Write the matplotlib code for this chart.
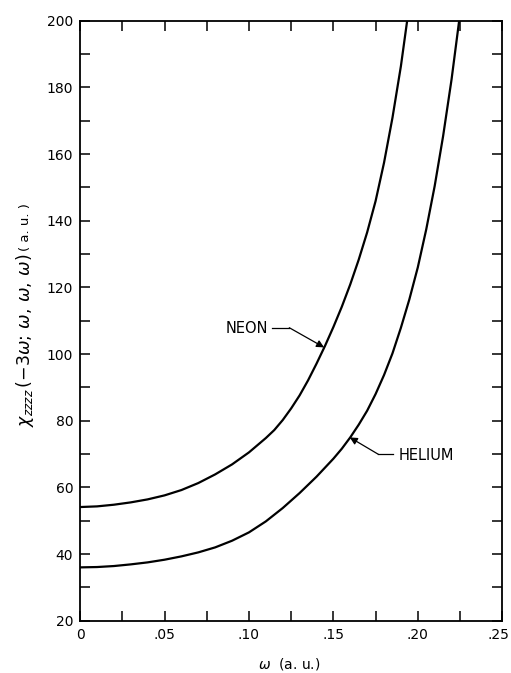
import matplotlib as mpl
mpl.use('Agg')
import matplotlib.pyplot as plt
import matplotlib.transforms as mtransforms
from matplotlib.ticker import MultipleLocator, FixedLocator

# values
neon_w = [0.0, 0.01, 0.02, 0.03, 0.04, 0.05, 0.06, 0.07, 0.08, 0.09, 0.10, 0.11,
          0.115, 0.12, 0.125, 0.13, 0.135, 0.14, 0.145, 0.15, 0.155, 0.16, 0.165,
          0.17, 0.175, 0.18, 0.185, 0.19, 0.1937]
neon_chi = [54.1, 54.3, 54.8, 55.5, 56.4, 57.6, 59.2, 61.3, 63.9, 66.9, 70.5, 74.8,
            77.2, 80.2, 83.7, 87.6, 92.1, 97.1, 102.4, 108.1, 114.2, 120.9, 128.3,
            136.5, 145.9, 157.4, 170.9, 186.4, 200.0]

helium_w = [0.0, 0.01, 0.02, 0.03, 0.04, 0.05, 0.06, 0.07, 0.08, 0.09, 0.10, 0.11,
            0.12, 0.13, 0.14, 0.15, 0.155, 0.16, 0.165, 0.17, 0.175, 0.18, 0.185,
            0.19, 0.195, 0.20, 0.205, 0.21, 0.215, 0.22, 0.2245]
helium_chi = [36.0, 36.1, 36.4, 36.9, 37.5, 38.3, 39.3, 40.5, 42.0, 44.0, 46.5, 49.8,
              53.8, 58.3, 63.2, 68.6, 71.6, 75.0, 78.8, 83.0, 88.0, 93.7, 100.2,
              107.9, 116.4, 126.0, 137.4, 150.4, 165.4, 182.4, 200.0]

xticks = [0, 0.05, 0.10, 0.15, 0.20, 0.25]
xticklabels = ['0', '.05', '.10', '.15', '.20', '.25']
yticks = [20, 40, 60, 80, 100, 120, 140, 160, 180, 200]

fig = plt.figure(figsize=(5.11, 6.73), dpi=100)
ax = fig.add_axes([0.1568, 0.0777, 0.826, 0.8915])

ax.plot(neon_w, neon_chi, 'k', lw=1.6, solid_joinstyle='round')
ax.plot(helium_w, helium_chi, 'k', lw=1.6, solid_joinstyle='round')

ax.set_xlim(0, 0.25)
ax.set_ylim(20, 200)
ax.xaxis.set_major_locator(FixedLocator(xticks))
ax.set_xticklabels(xticklabels)
ax.xaxis.set_minor_locator(MultipleLocator(0.025))
ax.yaxis.set_major_locator(FixedLocator(yticks))
ax.yaxis.set_minor_locator(MultipleLocator(10))
ax.tick_params(which='both', direction='in', length=7, width=1.1,
               top=True, right=True, labelsize=10, pad=5)
for s in ax.spines.values():
    s.set_linewidth(1.3)

# keep the last x label inside the picture
lab = ax.get_xticklabels()[-1]
lab.set_transform(lab.get_transform() +
                  mtransforms.ScaledTranslation(-3 / 72, 0, fig.dpi_scale_trans))

# labels with leader arrows
arr = dict(arrowstyle='-|>', color='k', lw=0.9, mutation_scale=11,
           shrinkA=0, shrinkB=0)
ax.text(0.0859, 107.7, 'NEON', fontsize=10.5, ha='left', va='center')
ax.plot([0.1134, 0.1239], [107.9, 107.9], 'k', lw=0.9)
ax.annotate('', xy=(0.1445, 102.0), xytext=(0.1239, 107.9), arrowprops=arr)

ax.text(0.1885, 69.7, 'HELIUM', fontsize=10.5, ha='left', va='center')
ax.plot([0.1767, 0.1855], [69.9, 69.9], 'k', lw=0.9)
ax.annotate('', xy=(0.1597, 75.0), xytext=(0.1767, 69.9), arrowprops=arr)

fig.text(289 / 511, 1 - 664 / 673, r'$\omega$  (a. u.)', fontsize=10,
         ha='center', va='center')

t1 = fig.text(25 / 511, 0.366, r'$\chi_{zzzz}\,(-3\omega;\,\omega,\,\omega,\,\omega)$',
              fontsize=12.5, rotation=90, ha='center', va='bottom')
ax.annotate('( a. u. )', xy=(0.5, 1.0), xycoords=t1, xytext=(0, 2),
            textcoords='offset points', rotation=90, ha='center', va='bottom',
            fontsize=9.5)

plt.savefig('out.png', dpi=100)
plt.close('all')
